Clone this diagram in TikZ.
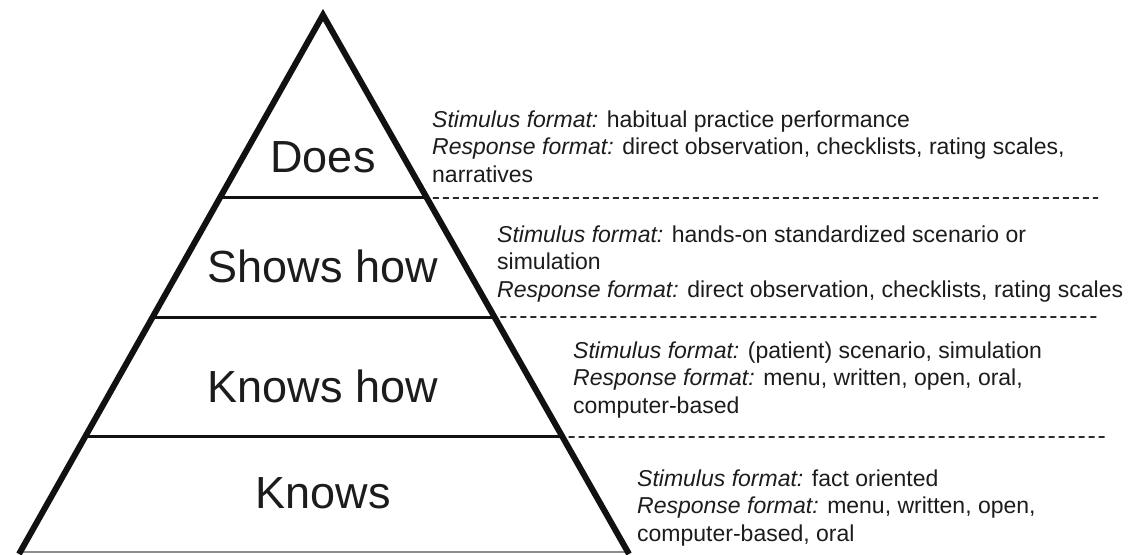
\documentclass[tikz,border=0pt]{standalone}
\usepackage{fontspec}
\setmainfont{Liberation Sans}
\usetikzlibrary{calc}
\definecolor{ink}{HTML}{111111}
\definecolor{txt}{HTML}{1C1C1C}
\definecolor{dashc}{HTML}{2A2A2A}
\tikzset{
  side/.style={line width=6pt, draw=ink, line join=miter},
  tier/.style={line width=3pt, draw=ink},
  sep/.style={line width=1.9pt, draw=dashc, dash pattern=on 6pt off 4pt},
  big/.style={anchor=base, inner sep=0pt, text=txt, font=\fontsize{45}{54}\selectfont},
  desc/.style={anchor=base west, inner sep=0pt, align=left, text=txt, font=\fontsize{23}{27.4}\selectfont}
}
\begin{document}
\begin{tikzpicture}[x=1pt,y=-1pt]
\useasboundingbox (0,0) rectangle (1131,554);
\clip (0,0) rectangle (1131,554);
\fill[white] (0,0) rectangle (1131,554);

\coordinate (apex) at (323,15);
\coordinate (bl) at (19,554);
\coordinate (br) at (629,554);

\coordinate (l1) at ($(apex)!0.3395!(bl)$);
\coordinate (r1) at ($(apex)!0.3395!(br)$);
\coordinate (l2) at ($(apex)!0.5603!(bl)$);
\coordinate (r2) at ($(apex)!0.5603!(br)$);
\coordinate (l3) at ($(apex)!0.7829!(bl)$);
\coordinate (r3) at ($(apex)!0.7829!(br)$);
\coordinate (b0) at ($(apex)!0.9972!(bl)$);
\coordinate (b1) at ($(apex)!0.9972!(br)$);

\coordinate (e1) at (1098,198);
\coordinate (e2) at (1100,317);
\coordinate (e3) at (1108,437);

% tier lines
\draw[tier] (l1) -- (r1);
\draw[tier] (l2) -- (r2);
\draw[tier] (l3) -- (r3);
\draw[line width=2pt, draw=black!45] (b0) -- (b1);

% dashed separators
\draw[sep] ($(r1)+(6,0)$) -- (e1);
\draw[sep] ($(r2)+(6,0)$) -- (e2);
\draw[sep] ($(r3)+(6,0)$) -- (e3);

% pyramid sides
\draw[side] (bl) -- (apex) -- (br);

% level labels
\node[big] (does) at (323,172) {Does};
\node[big] (shows) at (323,282) {Shows how};
\node[big] (knowshow) at (323,402) {Knows how};
\node[big] (knows) at (323,508) {Knows};

% descriptions (anchor = baseline of last line)
\node[desc] (d1) at (432,182) {\textit{Stimulus format:} habitual practice performance\\
\textit{Response format:} direct observation, checklists, rating scales,\\
narratives};
\node[desc] (d2) at (497,297) {\textit{Stimulus format:} hands-on standardized scenario or\\
simulation\\
\textit{Response format:} direct observation, checklists, rating scales};
\node[desc] (d3) at (573,413) {\textit{Stimulus format:} (patient) scenario, simulation\\
\textit{Response format:} menu, written, open, oral,\\
computer-based};
\node[desc] (d4) at (637,541) {\textit{Stimulus format:} fact oriented\\
\textit{Response format:} menu, written, open,\\
computer-based, oral};
\end{tikzpicture}
\end{document}
